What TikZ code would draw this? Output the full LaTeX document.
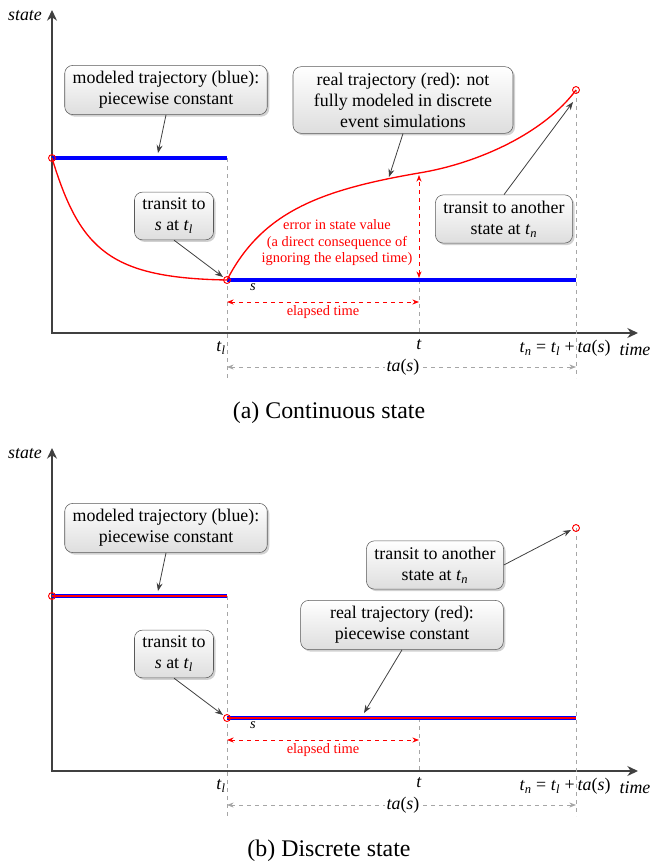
\documentclass[tikz,border=0pt]{standalone}
\usepackage{fontspec}
\setmainfont{Liberation Serif}
\usetikzlibrary{arrows.meta,shadows}

\newcommand{\notefont}{\fontsize{13.4}{15.75}\selectfont}
\newcommand{\notesmall}{\fontsize{10.8}{12.4}\selectfont}
\newcommand{\capfont}{\fontsize{17.9}{21}\selectfont}
\newcommand{\tsub}[2]{\textit{#1}\textsubscript{\textit{#2}}}

\begin{document}
\begin{tikzpicture}[x=0.75pt,y=-0.75pt,
  note/.style={draw=black!65,rounded corners=6pt,top color=white,bottom color=black!13,
    drop shadow={shadow xshift=1.5pt,shadow yshift=-1.5pt,fill=black,opacity=0.18},
    align=center,font=\notefont,inner xsep=6pt,inner ysep=4.5pt},
  pointer/.style={black!75,line width=0.6pt,-{Stealth[length=6pt,width=4.5pt]}},
  axis/.style={black!75,line width=1pt,
    {Stealth[length=8pt,width=7.5pt]}-{Stealth[length=8pt,width=7.5pt]}},
  guide/.style={black!35,dashed,line width=0.6pt},
  span/.style={{Stealth[length=5pt,width=3.8pt]}-{Stealth[length=5pt,width=3.8pt]}},
  endpt/.style={red,line width=0.7pt},
  axlabel/.style={font=\notefont\itshape}]
\useasboundingbox (0,0) rectangle (651,865);

% parts that both panels share
\foreach \dy/\p/\cap in {0/a/Continuous state,438/b/Discrete state}{
\begin{scope}[shift={(0,\dy)}]
  \coordinate (start\p) at (52,158);
  \coordinate (tl\p) at (227,280);
  \coordinate (tn\p) at (576,90);
  % the axes
  \draw[axis] (638,333) -- (52,333) -- (52,10);
  \node[axlabel] (state\p) at (25,16) {state};
  \node[axlabel] (time\p) at (635,350) {time};
  % vertical guides and time labels
  \draw[guide] (start\p-|tl\p) -- (227,378);
  \draw[guide] (tn\p) -- (576,378);
  \draw[guide] (419,280) -- (419,333);
  \node[font=\notefont] (tlab\p) at (221,348) {\tsub{t}{l}};
  \node[font=\notefont] (tlab\p) at (419,345) {\textit{t}};
  \node[font=\notefont] (tnlab\p) at (565,348) {\tsub{t}{n} = \tsub{t}{l} +\,\textit{ta}(\textit{s})};
  % ta(s) and elapsed time
  \draw[guide,span] (227,367) -- (576,367);
  \node[font=\notefont,fill=white,inner xsep=1pt] (ta\p) at (403,367) {\textit{ta}(\textit{s})};
  \draw[red,dashed,line width=0.7pt,span] (227,302) -- (419,302);
  \node[red,font=\notesmall] (elapsed\p) at (323,312) {elapsed time};
  \node[font=\notesmall\itshape] (s\p) at (253,287) {s};
  % callouts
  \node[note] (model\p) at (166,90) {modeled trajectory (blue):\\ piecewise constant};
  \node[note] (transit\p) at (174,216) {transit to\\ \textit{s} at \tsub{t}{l}};
  \draw[pointer] (model\p.south) -- (158,153);
  \draw[pointer] (transit\p.south) -- (223,277);
  % caption
  \node[font=\capfont] (cap\p) at (329,413) {(\p) \cap};
\end{scope}
}

% (a) continuous state
\draw[blue,line width=3pt] (starta) -- (227,158);
\draw[blue,line width=3pt] (tla) -- (576,280);
\draw[red,line width=1pt] (starta) .. controls (80,250) and (110,278) .. (tla)
  .. controls (262,212) and (320,190) .. (419,173)
  .. controls (480,163) and (545,132) .. (tna);
\draw[red,dashed,line width=0.7pt,span] (419,278) -- (419,175);
\node[red,font=\notesmall,align=center] (error) at (337,243)
  {error in state value\\ (a direct consequence of\\ ignoring the elapsed time)};
\node[note,minimum width=165pt] (reala) at (403,100) {real trajectory (red): not\\ fully modeled in discrete\\ event simulations};
\node[note] (anothera) at (504,219) {transit to another\\ state at \tsub{t}{n}};
\draw[pointer] (reala.south) -- (389,177);
\draw[pointer] (anothera.north) -- (573,102);
\foreach \c in {starta,tla,tna}
  \draw[endpt] (\c) circle[radius=2.6pt];

% (b) discrete state
\draw[blue,line width=3pt] (startb) -- (227,596);
\draw[blue,line width=3pt] (tlb) -- (576,718);
\draw[red,line width=1pt] (startb) -- (227,596);
\draw[red,line width=1pt] (tlb) -- (576,718);
\node[note] (anotherb) at (435,565) {transit to another\\ state at \tsub{t}{n}};
\node[note,minimum width=152pt] (realb) at (402,625) {real trajectory (red):\\ piecewise constant};
\draw[pointer] (anotherb.east) -- (571,530);
\draw[pointer] (realb.south) -- (364,713);
\foreach \c in {startb,tlb,tnb}
  \draw[endpt] (\c) circle[radius=2.6pt];
\end{tikzpicture}
\end{document}
